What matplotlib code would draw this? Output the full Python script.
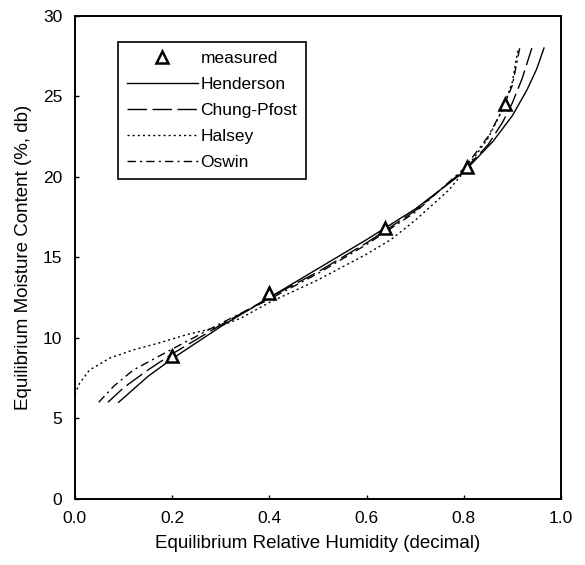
import matplotlib
matplotlib.use("Agg")
import matplotlib.pyplot as plt

plt.rcParams['font.family'] = ['Liberation Sans', 'DejaVu Sans']
plt.rcParams['lines.scale_dashes'] = False

# measured data
meas_rh = [0.20, 0.40, 0.638, 0.807, 0.884]
meas_emc = [8.9, 12.8, 16.8, 20.6, 24.5]

# model curves
hend_rh = [0.09, 0.15, 0.20, 0.30, 0.40, 0.50, 0.60, 0.70, 0.80, 0.86, 0.90, 0.93, 0.95, 0.965]
hend_emc = [6.0, 7.6, 8.7, 10.7, 12.5, 14.3, 16.1, 18.0, 20.3, 22.2, 23.8, 25.4, 26.7, 28.0]

chung_rh = [0.068, 0.10, 0.15, 0.20, 0.30, 0.40, 0.50, 0.60, 0.70, 0.80, 0.85, 0.88, 0.90, 0.92, 0.94]
chung_emc = [6.0, 6.9, 8.0, 9.0, 10.8, 12.5, 14.1, 15.9, 17.9, 20.4, 22.0, 23.4, 24.6, 26.1, 28.0]

halsey_rh = [0.0, 0.01, 0.03, 0.072, 0.12, 0.175, 0.23, 0.285, 0.34, 0.40, 0.50, 0.60, 0.65, 0.70, 0.77, 0.80, 0.85, 0.88, 0.90, 0.912]
halsey_emc = [6.5, 7.2, 8.0, 8.75, 9.25, 9.7, 10.2, 10.6, 11.2, 12.2, 13.6, 15.2, 16.1, 17.3, 19.2, 20.3, 22.4, 24.2, 25.9, 28.0]

oswin_rh = [0.049, 0.08, 0.12, 0.20, 0.30, 0.40, 0.50, 0.60, 0.70, 0.80, 0.85, 0.88, 0.90, 0.915]
oswin_emc = [6.0, 7.0, 8.0, 9.3, 10.9, 12.4, 14.0, 15.8, 17.8, 20.5, 22.5, 24.2, 25.7, 28.0]

xticks = [0.0, 0.2, 0.4, 0.6, 0.8, 1.0]
yticks = [0, 5, 10, 15, 20, 25, 30]

fig = plt.figure(figsize=(5.85, 5.65), dpi=100)
ax = fig.add_axes([0.128, 0.117, 0.831, 0.855])

lw = 1.0
ax.plot(meas_rh, meas_emc, linestyle='none', marker='^', markersize=8,
        markerfacecolor='white', markeredgecolor='black', markeredgewidth=1.8,
        label='measured', zorder=5)
ax.plot(hend_rh, hend_emc, color='black', lw=lw, linestyle='-', label='Henderson')
ax.plot(chung_rh, chung_emc, color='black', lw=lw, linestyle=(0, (14, 4)), label='Chung-Pfost')
ax.plot(halsey_rh, halsey_emc, color='black', lw=lw, linestyle=(0, (1.5, 2.2)), label='Halsey')
ax.plot(oswin_rh, oswin_emc, color='black', lw=lw, linestyle=(0, (6, 3, 1.5, 3)), label='Oswin')

ax.set_xlim(0, 1.0)
ax.set_ylim(0, 30)
ax.set_xticks(xticks)
ax.set_xticklabels(['%.1f' % v for v in xticks])
ax.set_yticks(yticks)
ax.tick_params(direction='in', length=3, width=1, labelsize=12.5, pad=9, color='black')
for s in ax.spines.values():
    s.set_linewidth(1.4)

ax.set_xlabel('Equilibrium Relative Humidity (decimal)', fontsize=13.5, labelpad=6)
ax.set_ylabel('Equilibrium Moisture Content (%, db)', fontsize=13.5, labelpad=8)

leg = ax.legend(loc='upper left', bbox_to_anchor=(0.089, 0.945), fontsize=12.5,
                handlelength=4.1, labelspacing=0.62, fancybox=False, framealpha=1,
                edgecolor='black', borderpad=0.5, handletextpad=0.15, borderaxespad=0)
leg.get_frame().set_linewidth(1.2)

fig.savefig('out.png', dpi=100)
